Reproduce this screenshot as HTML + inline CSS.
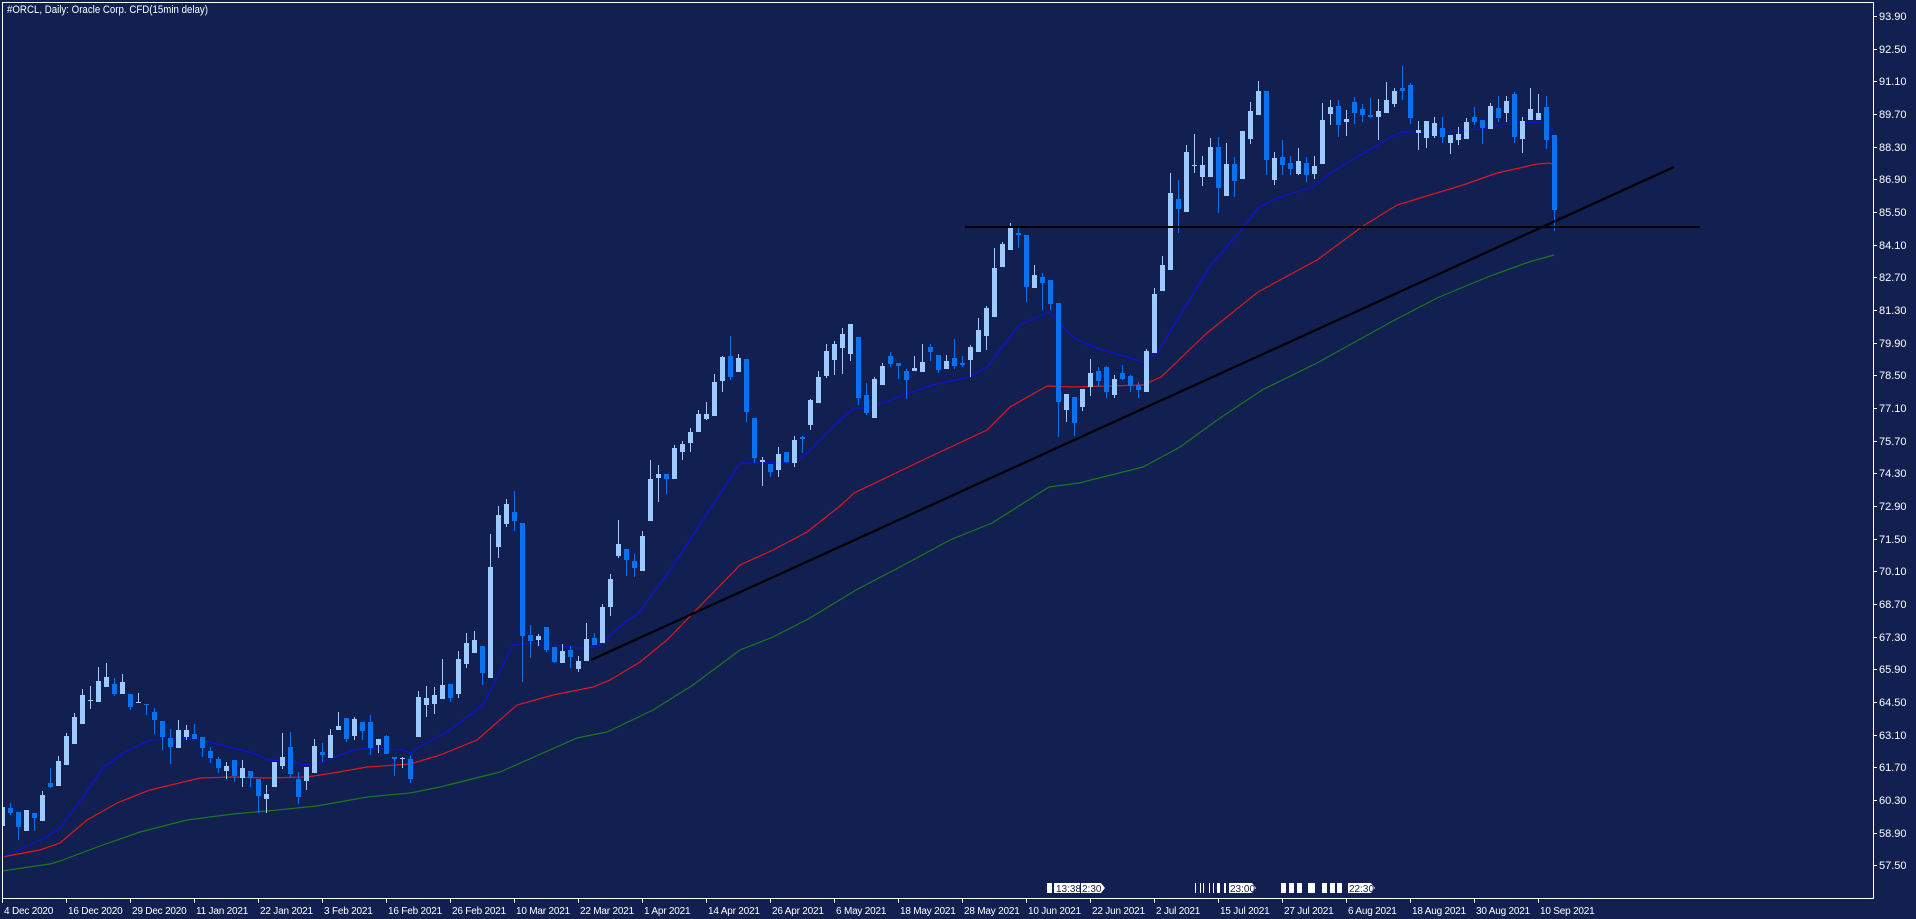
<!DOCTYPE html>
<html><head><meta charset="utf-8"><style>
html,body{margin:0;padding:0;background:#111f51;}
svg{display:block;font-family:"Liberation Sans",Tahoma,sans-serif;}
</style></head><body>
<svg id="c" width="1916" height="919" xmlns="http://www.w3.org/2000/svg">
<rect width="1916" height="919" fill="#111f51"/>
<g id="ma" fill="none" stroke-width="1.2">
<polyline stroke="#1a7a1a" points="2,871 50,864 60,861 100,846 140,832 187,820 233,814 267,811 317,806 367,797 410,793 440,787 500,772 577,738 607,732 653,710 693,685 740,650 773,637 810,618 856,590 900,567 950,540 992,523 1049,487 1079,483 1143,467 1180,447 1220,418 1262,390 1317,363 1391,322 1437,298 1490,276 1529,262 1554,255"/>
<polyline stroke="#e01818" points="2,857 40,850 60,843 87,820 117,803 150,790 200,778 233,777 267,778 307,777 333,773 367,767 410,764 440,755 477,740 517,705 553,695 593,687 610,680 640,662 667,640 703,603 740,565 773,550 807,532 840,506 854,493 923,460 987,430 1010,407 1047,386 1073,387 1143,385 1161,377 1207,333 1258,292 1317,260 1363,226 1397,205 1430,195 1463,185 1497,173 1537,164 1550,163 1556,166"/>
<polyline stroke="#1010e0" points="2,857 43,839 60,828 83,797 103,768 123,753 150,740 193,738 233,748 253,753 267,760 293,761 300,765 320,763 340,755 357,749 380,749 403,750 410,753 432,740 450,730 483,705 513,645 530,643 553,645 577,648 597,647 603,642 627,620 637,615 670,570 703,520 740,463 767,463 790,462 803,457 840,420 854,408 868,408 932,385 969,377 987,367 1019,325 1049,312 1074,338 1097,348 1143,362 1157,353 1212,263 1239,233 1258,208 1277,198 1313,187 1330,173 1357,157 1397,134 1407,132 1447,132 1480,129 1510,123 1537,122 1547,124 1554,132"/>
</g>
<g id="cd"></g>
<line x1="965" y1="227" x2="1700" y2="227" stroke="#000" stroke-width="2"/>
<line x1="591" y1="660" x2="1674" y2="167" stroke="#000" stroke-width="2.2"/>
<rect x="2.5" y="2.5" width="1871" height="896" fill="none" stroke="#fff" stroke-width="1"/>
<text x="7" y="13" fill="#fff" font-size="11" textLength="201" lengthAdjust="spacingAndGlyphs">#ORCL, Daily:  Oracle Corp. CFD(15min delay)</text>
<g fill="#fff" font-size="11">
<text x="1879" y="20">93.90</text><text x="1879" y="53">92.50</text><text x="1879" y="85">91.10</text><text x="1879" y="118">89.70</text><text x="1879" y="151">88.30</text><text x="1879" y="183">86.90</text><text x="1879" y="216">85.50</text><text x="1879" y="249">84.10</text><text x="1879" y="281">82.70</text><text x="1879" y="314">81.30</text><text x="1879" y="347">79.90</text><text x="1879" y="379">78.50</text><text x="1879" y="412">77.10</text><text x="1879" y="445">75.70</text><text x="1879" y="477">74.30</text><text x="1879" y="510">72.90</text><text x="1879" y="543">71.50</text><text x="1879" y="575">70.10</text><text x="1879" y="608">68.70</text><text x="1879" y="641">67.30</text><text x="1879" y="673">65.90</text><text x="1879" y="706">64.50</text><text x="1879" y="739">63.10</text><text x="1879" y="771">61.70</text><text x="1879" y="804">60.30</text><text x="1879" y="837">58.90</text><text x="1879" y="869">57.50</text>
</g>
<g fill="#fff" font-size="10" letter-spacing="-0.2">
<text x="4" y="914">4 Dec 2020</text><text x="68" y="914">16 Dec 2020</text><text x="132" y="914">29 Dec 2020</text><text x="196" y="914">11 Jan 2021</text><text x="260" y="914">22 Jan 2021</text><text x="324" y="914">3 Feb 2021</text><text x="388" y="914">16 Feb 2021</text><text x="452" y="914">26 Feb 2021</text><text x="516" y="914">10 Mar 2021</text><text x="580" y="914">22 Mar 2021</text><text x="644" y="914">1 Apr 2021</text><text x="708" y="914">14 Apr 2021</text><text x="772" y="914">26 Apr 2021</text><text x="836" y="914">6 May 2021</text><text x="900" y="914">18 May 2021</text><text x="964" y="914">28 May 2021</text><text x="1028" y="914">10 Jun 2021</text><text x="1092" y="914">22 Jun 2021</text><text x="1156" y="914">2 Jul 2021</text><text x="1220" y="914">15 Jul 2021</text><text x="1284" y="914">27 Jul 2021</text><text x="1348" y="914">6 Aug 2021</text><text x="1412" y="914">18 Aug 2021</text><text x="1476" y="914">30 Aug 2021</text><text x="1540" y="914">10 Sep 2021</text>
</g>
<g id="tk" stroke="#fff"></g>
<g id="ev">
<rect x="1047" y="883" width="5" height="10" fill="#fff"/>
<rect x="1054" y="883" width="26" height="10" fill="#fff"/>
<polygon points="1081,883 1101,883 1105,888 1101,893 1081,893" fill="#fff"/>
<text x="1056" y="892" font-size="10" fill="#111f51">13:38</text>
<text x="1082" y="892" font-size="10" fill="#111f51">2:30</text>
<rect x="1195" y="883" width="1" height="10" fill="#fff"/><rect x="1200" y="883" width="1" height="10" fill="#fff"/><rect x="1203" y="883" width="1" height="10" fill="#fff"/><rect x="1209" y="883" width="1" height="10" fill="#fff"/><rect x="1213" y="883" width="1" height="10" fill="#fff"/>
<rect x="1217" y="883" width="3" height="10" fill="#fff"/><rect x="1224" y="883" width="2" height="10" fill="#fff"/>
<polygon points="1229,883 1252,883 1256,888 1252,893 1229,893" fill="#fff"/>
<text x="1230" y="892" font-size="10" fill="#111f51">23:00</text>
<rect x="1281" y="883" width="5" height="10" fill="#fff"/><rect x="1289" y="883" width="5" height="10" fill="#fff"/><rect x="1297" y="883" width="5" height="10" fill="#fff"/><rect x="1308" y="883" width="7" height="10" fill="#fff"/><rect x="1322" y="883" width="5" height="10" fill="#fff"/><rect x="1330" y="883" width="5" height="10" fill="#fff"/><rect x="1337" y="883" width="5" height="10" fill="#fff"/>
<polygon points="1348,883 1371,883 1375,888 1371,893 1348,893" fill="#fff"/>
<text x="1349" y="892" font-size="10" fill="#111f51">22:30</text>
</g>
</svg>
<script>
var D=[[1,807,826,0,0],[0,808,813,803,815],[0,812,827,0,840],[1,810,831,0,0],[0,813,818,0,831],[1,795,821,791,0],[0,783,787,768,788],[1,761,786,756,0],[1,736,765,733,0],[1,717,744,713,0],[1,695,724,689,0],[1,700,701,686,709],[1,681,702,667,0],[1,677,687,663,0],[0,684,694,678,696],[1,682,694,674,0],[0,694,707,0,710],[1,702,703,693,0],[0,704,705,0,715],[0,712,720,708,734],[0,721,737,0,750],[0,738,747,729,764],[1,730,748,720,0],[1,730,737,725,740],[0,734,739,724,0],[0,737,748,0,757],[0,751,758,747,763],[0,759,768,757,773],[1,766,771,762,779],[0,760,776,0,782],[1,768,778,760,787],[0,771,778,0,787],[0,779,796,0,813],[1,794,799,785,813],[1,762,787,0,0],[1,757,766,733,769],[0,747,774,732,777],[0,779,797,772,804],[1,767,781,0,790],[1,746,773,739,0],[0,752,755,743,762],[1,735,758,729,0],[1,726,730,712,0],[0,718,739,0,742],[1,719,736,717,740],[0,722,731,0,740],[0,722,748,715,755],[1,739,745,0,753],[0,736,754,735,0],[0,757,759,0,776],[1,758,759,757,768],[0,759,779,755,783],[1,697,737,691,0],[1,698,705,686,717],[1,695,704,687,714],[1,685,699,659,0],[0,684,698,0,702],[1,659,694,651,698],[1,643,664,633,668],[1,640,653,631,0],[0,646,673,0,685],[1,567,678,534,0],[1,515,547,506,558],[1,504,524,499,527],[0,512,521,491,531],[0,523,636,0,682],[0,635,641,625,658],[1,636,640,634,646],[0,627,650,0,652],[0,647,662,0,663],[1,651,663,644,0],[0,650,657,646,668],[1,661,669,656,672],[1,639,661,623,0],[0,638,645,633,0],[1,607,643,604,0],[1,579,607,574,616],[1,544,556,520,558],[0,549,560,0,576],[0,561,568,554,577],[1,536,571,531,0],[1,479,521,460,0],[1,474,478,465,502],[0,474,479,0,494],[1,448,479,445,0],[1,444,452,441,460],[1,432,443,428,452],[1,414,432,410,0],[1,414,419,402,420],[1,382,416,374,0],[1,357,381,356,392],[0,356,377,336,380],[1,358,372,354,0],[0,359,412,0,422],[0,418,458,0,463],[1,460,462,457,486],[0,464,472,0,477],[1,454,470,447,477],[0,452,462,0,463],[1,440,463,436,467],[0,437,439,436,453],[1,400,425,399,430],[1,377,403,371,0],[1,351,376,344,378],[1,344,360,341,375],[1,334,348,328,374],[1,324,354,0,361],[0,337,398,0,405],[0,395,413,383,415],[1,379,418,377,0],[1,366,385,363,0],[0,356,364,352,367],[0,363,366,0,379],[0,371,380,369,399],[1,368,371,356,0],[1,362,372,344,0],[0,347,352,344,361],[0,355,370,0,373],[1,361,369,355,0],[0,358,366,339,369],[0,363,365,356,367],[1,347,360,345,377],[1,330,352,318,0],[1,308,336,306,350],[1,268,317,248,0],[1,244,267,242,0],[1,226,250,223,0],[0,233,235,228,248],[0,235,287,0,302],[1,275,288,265,0],[0,277,283,273,310],[0,280,304,0,310],[0,303,402,0,437],[1,394,410,0,422],[0,397,423,0,436],[1,389,407,0,411],[1,373,387,359,396],[0,371,381,367,387],[0,367,392,366,398],[1,379,395,375,398],[0,373,379,365,380],[0,376,386,375,392],[0,385,390,382,398],[1,351,392,349,0],[1,294,353,288,0],[1,265,291,256,0],[1,193,270,173,0],[0,199,209,180,233],[1,152,212,145,0],[1,165,166,134,173],[1,165,177,156,186],[1,147,177,138,0],[0,147,188,137,213],[1,164,196,143,0],[0,164,181,157,197],[1,131,179,131,0],[1,111,139,102,144],[1,91,115,81,0],[0,91,160,0,175],[1,158,180,152,185],[0,157,165,140,175],[0,163,169,156,175],[1,161,174,148,175],[0,163,175,157,182],[1,166,174,156,179],[1,120,164,103,0],[1,107,114,100,125],[0,106,125,100,137],[1,119,122,110,136],[0,102,113,97,124],[0,109,115,104,122],[0,115,117,98,118],[1,111,117,99,140],[1,100,113,82,0],[1,91,104,88,107],[0,88,91,66,100],[0,85,118,83,124],[1,130,133,121,150],[1,121,138,0,148],[1,123,136,117,138],[0,128,137,117,143],[1,135,143,0,154],[1,134,140,127,145],[1,122,139,118,139],[0,117,122,107,125],[0,120,128,0,144],[1,106,129,103,129],[0,108,118,96,122],[1,101,113,96,122],[0,94,137,92,143],[1,121,139,117,153],[1,109,120,88,120],[1,113,120,94,120],[0,107,140,96,149],[0,135,210,0,231]];
var s='';
for(var i=0;i<D.length;i++){var d=D[i],x=2+8*i,c=d[0]?'#9dcaff':'#0b72ee';
var t=d[1],b=d[2],h=d[3]||t,l=d[4]||b;if(b-t<1)b=t+1;
s+='<rect x="'+x+'" y="'+h+'" width="1" height="'+(l-h)+'" fill="'+c+'"/>';
var bx=x-2,bw=5;if(bx<3){bw-=3-bx;bx=3;}
s+='<rect x="'+bx+'" y="'+t+'" width="'+bw+'" height="'+(b-t)+'" fill="'+c+'"/>';}
document.getElementById('cd').innerHTML=s;
var k='';for(var j=0;j<25;j++){var x=2.5+64*j;k+='<line x1="'+x+'" y1="898" x2="'+x+'" y2="903"/>';}
var ys=[16,49,81,114,147,179,212,245,277,310,343,375,408,441,473,506,539,571,604,637,669,702,735,767,800,833,865];
for(var j=0;j<ys.length;j++){k+='<line x1="1873" y1="'+(ys[j]+.5)+'" x2="1877" y2="'+(ys[j]+.5)+'"/>';}
document.getElementById('tk').innerHTML=k;
</script>
</body></html>
